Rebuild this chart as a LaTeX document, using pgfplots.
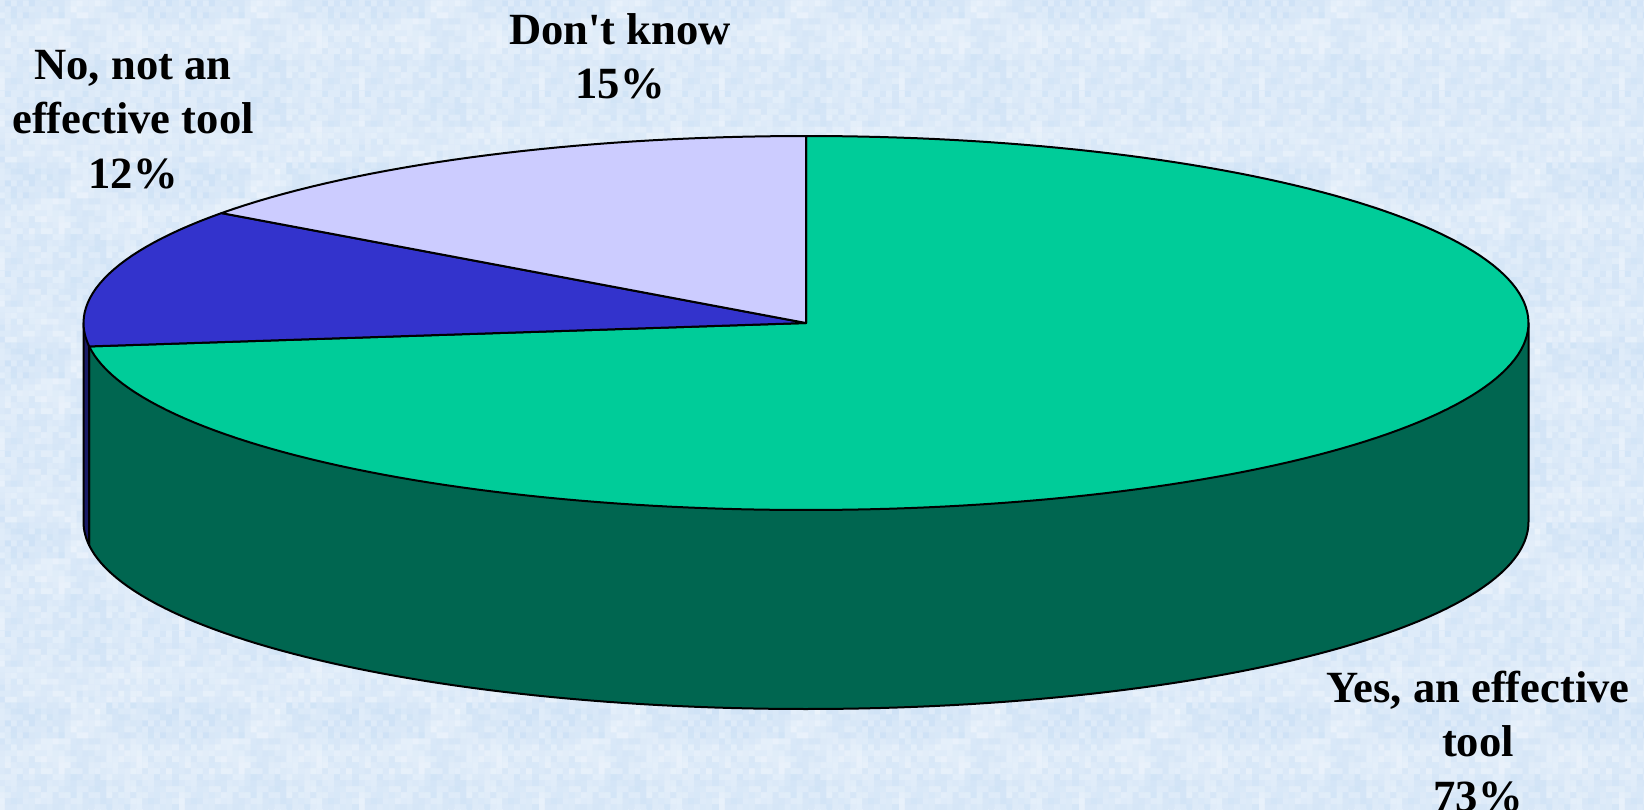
\documentclass[border=0pt]{standalone}
\usepackage{pgfplots}
\usepackage{pgfplotstable}
\usepackage{fontspec}
\usetikzlibrary{patterns}
\pgfplotsset{compat=1.18}
\setmainfont{Liberation Serif}

\definecolor{yesTop}{HTML}{00CC99}
\definecolor{yesSide}{HTML}{006650}
\definecolor{noTop}{HTML}{3333CC}
\definecolor{noSide}{HTML}{1A1A66}
\definecolor{dkTop}{HTML}{CCCCFF}
\definecolor{paperBlue}{HTML}{BBD6F2}

% survey shares, in the order the slices run clockwise from twelve o'clock
\pgfplotstableread{
label share
yes   73
no    12
dk    15
}\sharetable
\pgfplotstablegetelem{0}{share}\of\sharetable \let\shareYes\pgfplotsretval
\pgfplotstablegetelem{1}{share}\of\sharetable \let\shareNo\pgfplotsretval

% pie geometry on a 1644 x 809 canvas
\def\cx{806}\def\cy{323}\def\rx{722.5}\def\ry{187}\def\dep{199}
\pgfmathsetmacro\angA{90-3.6*\shareYes+360}
\pgfmathsetmacro\angB{\angA-3.6*\shareNo}

% repeating tile of mottled paper: fine grain over coarser blotches
\newcount\mott
\newcount\mottq
\newcount\blot
\newcount\blotq
\pgfdeclarepatterninherentlycolored{mottle}
  {\pgfqpoint{0pt}{0pt}}{\pgfqpoint{90pt}{90pt}}{\pgfqpoint{90pt}{90pt}}{%
  \foreach \i in {0,...,29}{
    \foreach \j in {0,...,29}{
      \mott=\numexpr \i*\i*7+\j*\j*13+\i*\j*5+\i*3+\j*11\relax
      \mottq=\mott \divide\mottq by 23
      \edef\ci{\the\numexpr(\i-3)/6\relax}
      \edef\cj{\the\numexpr(\j-3)/6\relax}
      \blot=\numexpr \ci*\ci*5+\cj*\cj*3+\ci*\cj*7+\ci+\cj*2+4\relax
      \blotq=\blot \divide\blotq by 7
      \edef\h{\the\numexpr(\mott-\mottq*23)+(\blot-\blotq*7)*3+30\relax}
      \pgfsetfillcolor{paperBlue!\h!white}
      \pgfpathrectangle{\pgfpoint{\i*3pt}{\j*3pt}}{\pgfqpoint{3.1pt}{3.1pt}}
      \pgfusepath{fill}
    }
  }}

\begin{document}
\begin{tikzpicture}[x=0.5pt,y=0.5pt]
\useasboundingbox (0,0) rectangle (1644,809);
\clip (0,0) rectangle (1644,809);
% mottled paper behind the chart, on a flat tone that hides the tile joints
\fill[paperBlue!50!white] (0,0) rectangle (1644,809);
\fill[pattern=mottle] (0,0) rectangle (1644,809);
\begin{axis}[
  at={(0,0)},anchor=south west,
  scale only axis,width=822pt,height=404.5pt,
  xmin=0,xmax=1644,ymin=0,ymax=809,y dir=reverse,
  hide axis,clip=false,
  every axis plot/.append style={line width=1pt,line join=round,draw=black},
  variable=\t,
  nodes={font=\bfseries\fontsize{22.3}{27.3}\selectfont,align=center,text=black},
]
% side wall: green from the slice boundary round the front, with the blue sliver at the left
\addplot[fill=yesSide,domain=\angA:360,samples=120]
  ({\cx+\rx*cos(t)},{\cy+\dep-\ry*sin(t)})
  -- (axis cs:{\cx+\rx},\cy) -- (axis cs:{\cx+\rx*cos(\angA)},{\cy-\ry*sin(\angA)}) -- cycle;
\addplot[fill=noSide,domain=180:\angA,samples=8]
  ({\cx+\rx*cos(t)},{\cy+\dep-\ry*sin(t)})
  -- (axis cs:{\cx+\rx*cos(\angA)},{\cy-\ry*sin(\angA)}) -- (axis cs:{\cx-\rx},\cy) -- cycle;
% top faces of the three slices
\addplot[fill=yesTop,domain=\angA:450,samples=180]
  ({\cx+\rx*cos(t)},{\cy-\ry*sin(t)}) -- (axis cs:\cx,\cy) -- cycle;
\addplot[fill=noTop,domain=\angB:\angA,samples=30]
  ({\cx+\rx*cos(t)},{\cy-\ry*sin(t)}) -- (axis cs:\cx,\cy) -- cycle;
\addplot[fill=dkTop,domain=90:\angB,samples=36]
  ({\cx+\rx*cos(t)},{\cy-\ry*sin(t)}) -- (axis cs:\cx,\cy) -- cycle;
% slice labels
\node at (axis cs:620,56.5) {Don\textquotesingle t know\\15\%};
\node at (axis cs:133,119.5) {No, not an\\effective tool\\12\%};
\node at (axis cs:1478,741.5) {Yes, an effective\\tool\\73\%};
\end{axis}
\end{tikzpicture}
\end{document}
